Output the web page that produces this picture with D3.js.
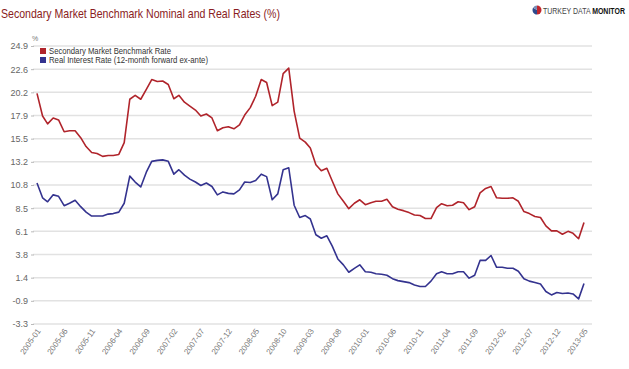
<!DOCTYPE html>
<html>
<head>
<meta charset="utf-8">
<script src="https://cdnjs.cloudflare.com/ajax/libs/d3/7.8.5/d3.min.js"></script>
<style>
  body { margin: 0; background: #fff; }
  text { font-family: "Liberation Sans", Arial, sans-serif; }
</style>
</head>
<body>
<div id="chart"></div>
<script>
// Monthly data, 2005-01 .. 2013-05
var startMonth = "2005-01";
var nominalRate = [20.1,17.8,17.0,17.6,17.4,16.2,16.3,16.3,15.6,14.7,14.1,14.0,13.7,13.8,13.8,13.9,
  15.1,19.5,19.9,19.5,20.5,21.5,21.3,21.35,21.0,19.55,19.9,19.2,18.8,18.4,17.8,18.0,17.6,16.3,
  16.6,16.7,16.5,16.9,17.9,18.65,19.8,21.5,21.2,18.85,19.2,22.1,22.65,18.3,15.55,15.15,14.55,
  12.85,12.25,12.5,11.2,9.9,9.15,8.4,8.95,9.3,8.8,9.0,9.15,9.15,9.35,8.6,8.35,8.2,
  8.0,7.75,7.7,7.4,7.4,8.5,8.9,8.7,8.75,9.1,9.0,8.3,8.6,10.0,10.45,10.65,9.5,9.45,9.45,9.5,
  9.15,8.1,7.9,7.6,7.5,6.65,6.15,6.15,5.8,6.1,5.9,5.35,7.0];
var realRate = [11.0,9.5,9.1,9.8,9.65,8.7,8.95,9.25,8.6,8.05,7.65,7.65,7.65,7.85,7.9,8.05,
  8.95,11.7,11.1,10.6,12.1,13.2,13.3,13.35,13.2,11.9,12.35,11.8,11.4,11.1,10.75,11.0,10.65,9.8,
  10.1,9.95,9.9,10.3,11.1,11.05,11.25,11.9,11.65,9.3,9.9,12.35,12.55,8.75,7.5,7.7,7.35,
  5.75,5.4,5.65,4.6,3.3,2.7,1.95,2.35,2.7,2.0,1.95,1.8,1.75,1.65,1.3,1.1,1.0,
  0.9,0.65,0.5,0.5,1.05,1.8,2.0,1.8,1.8,2.0,2.0,1.35,1.65,3.15,3.15,3.65,2.45,2.45,2.35,2.35,
  2.05,1.3,1.05,0.9,0.75,0.0,-0.35,-0.1,-0.2,-0.15,-0.25,-0.75,0.8];
var yTicks = [-3.3,-0.95,1.4,3.75,6.1,8.45,10.8,13.15,15.5,17.85,20.2,22.55,24.9];
var yTickLabels = ["-3.3","-0.9","1.4","3.8","6.1","8.5","10.8","13.2","15.5","17.9","20.2","22.6","24.9"];
var seriesNames = ["Secondary Market Benchmark Rate", "Real Interest Rate (12-month forward ex-ante)"];
var seriesColors = ["#b0242b", "#34338f"];

var WIDTH = 629, HEIGHT = 369;

var parse = d3.timeParse("%Y-%m");
var fmt = d3.timeFormat("%Y-%m");
var t0 = parse(startMonth);
var months = nominalRate.map(function(d, i) { return d3.timeMonth.offset(t0, i); });

var svg = d3.select("#chart").append("svg")
    .attr("width", WIDTH)
    .attr("height", HEIGHT);

var x = d3.scaleTime()
    .domain([months[0], months[months.length - 1]])
    .range([37, 584]);

var y = d3.scaleLinear()
    .domain([-3.3, 24.9])
    .range([324, 46]);

// gridlines
svg.append("g").selectAll("line")
    .data(yTicks)
    .enter().append("line")
    .attr("x1", 33).attr("x2", 592)
    .attr("y1", function(d) { return y(d); })
    .attr("y2", function(d) { return y(d); })
    .style("stroke", "#e2e2e2")
    .style("stroke-width", 1.5);

// y axis labels
var yAxis = d3.axisLeft(y)
    .tickValues(yTicks)
    .tickSize(3)
    .tickPadding(3)
    .tickFormat(function(d, i) { return yTickLabels[i]; });

var gy = svg.append("g").attr("transform", "translate(34,0)").call(yAxis);
gy.select(".domain").remove();
gy.selectAll("line").style("stroke", "#bbb");
gy.selectAll("text").style("font-size", "9px").style("fill", "#666")
    .style("font-family", "'Liberation Sans', Arial, sans-serif");

svg.append("text")
    .attr("x", 32).attr("y", 41)
    .style("font-size", "7px").style("fill", "#777")
    .text("%");

// x axis labels every 5 months
var xTicks = months.filter(function(d, i) { return i % 5 === 0; });
svg.append("g").selectAll("text")
    .data(xTicks)
    .enter().append("text")
    .attr("transform", function(d) { return "translate(" + (x(d) + 4) + ",331) rotate(-55)"; })
    .attr("text-anchor", "end")
    .style("font-size", "8px")
    .style("fill", "#777")
    .text(function(d) { return fmt(d); });

// lines
var line = d3.line()
    .x(function(d, i) { return x(months[i]); })
    .y(function(d) { return y(d); });

[nominalRate, realRate].forEach(function(s, k) {
  svg.append("path")
      .datum(s)
      .attr("d", line)
      .style("fill", "none")
      .style("stroke", seriesColors[k])
      .style("stroke-width", 1.6)
      .style("stroke-linejoin", "round");
});

// legend
var legendWidths = [122, 159];
var legend = svg.append("g").selectAll("g")
    .data(seriesNames)
    .enter().append("g")
    .attr("transform", function(d, i) { return "translate(40," + (48 + i * 9) + ")"; });
legend.append("rect")
    .attr("width", 6).attr("height", 6)
    .style("fill", function(d, i) { return seriesColors[i]; });
legend.append("text")
    .attr("x", 9).attr("y", 6)
    .attr("textLength", function(d, i) { return legendWidths[i]; })
    .attr("lengthAdjust", "spacingAndGlyphs")
    .style("font-size", "8.5px")
    .style("fill", "#333")
    .text(function(d) { return d; });

// title
svg.append("text")
    .attr("x", 1).attr("y", 18)
    .attr("textLength", 279)
    .attr("lengthAdjust", "spacingAndGlyphs")
    .style("font-size", "13px")
    .style("fill", "#8a1c22")
    .text("Secondary Market Benchmark Nominal and Real Rates (%)");

// logo
var logo = svg.append("g").attr("transform", "translate(537,10)");
var pie = d3.pie().sort(null)([3, 2, 1]);
var arc = d3.arc().innerRadius(0).outerRadius(4.5);
logo.selectAll("path")
    .data(pie)
    .enter().append("path")
    .attr("d", arc)
    .style("fill", function(d, i) { return ["#c0272d", "#2e4a8c", "#7c8db5"][i]; });
var lt = logo.append("g").attr("transform", "translate(6,3.5) scale(0.82,1)")
    .append("text")
    .style("font-size", "8.5px");
lt.append("tspan").style("fill", "#444").text("TURKEY DATA ");
lt.append("tspan").style("fill", "#111").style("font-weight", "bold").text("MONITOR");
</script>
</body>
</html>
